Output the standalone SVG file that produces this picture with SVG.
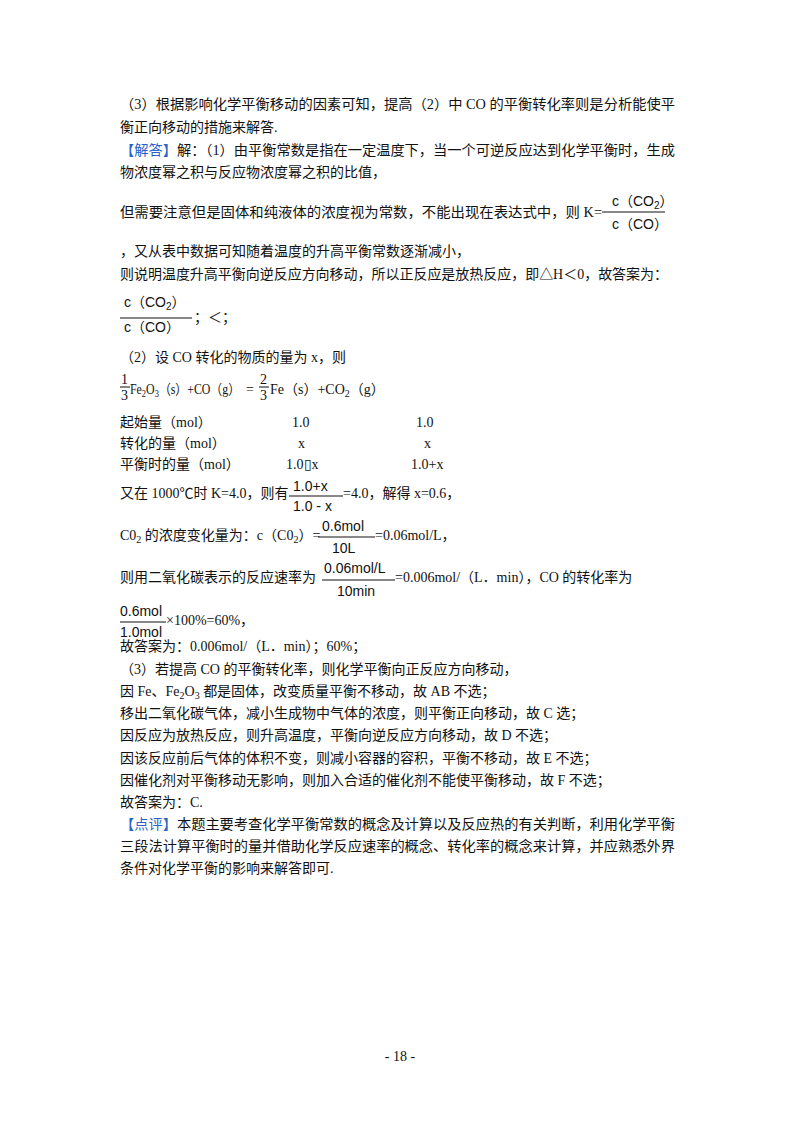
<svg xmlns="http://www.w3.org/2000/svg" width="800" height="1132" viewBox="0 0 800 1132">
<style>
text{font-family:"Liberation Serif","Noto Sans CJK SC",serif;font-size:14px;fill:#111}
.f{font-family:"Liberation Sans","Noto Sans CJK SC",sans-serif;font-size:14px}
.b{fill:#2a62c9}
.s{font-size:10px}
line{stroke:#111;stroke-width:1}
</style>
<rect width="800" height="1132" fill="#fff"/>
<text x="120" y="109" textLength="555" lengthAdjust="spacingAndGlyphs">（3）根据影响化学平衡移动的因素可知，提高（2）中 CO 的平衡转化率则是分析能使平</text>
<text x="120" y="132">衡正向移动的措施来解答.</text>
<text x="120" y="155" textLength="555" lengthAdjust="spacingAndGlyphs"><tspan class="b">【解答】</tspan>解：（1）由平衡常数是指在一定温度下，当一个可逆反应达到化学平衡时，生成</text>
<text x="120" y="177">物浓度幂之积与反应物浓度幂之积的比值，</text>
<text x="120" y="217" textLength="482" lengthAdjust="spacingAndGlyphs">但需要注意但是固体和纯液体的浓度视为常数，不能出现在表达式中，则 K=</text>
<text class="f" x="612" y="206">c（CO<tspan class="s" dy="3">2</tspan><tspan dy="-3">）</tspan></text>
<line x1="602" y1="212" x2="665" y2="212"/>
<text class="f" x="612" y="229">c（CO）</text>
<text x="120" y="256">，又从表中数据可知随着温度的升高平衡常数逐渐减小，</text>
<text x="120" y="279" textLength="548" lengthAdjust="spacingAndGlyphs">则说明温度升高平衡向逆反应方向移动，所以正反应是放热反应，即△H＜0，故答案为：</text>
<text class="f" x="124" y="307">c（CO<tspan class="s" dy="3">2</tspan><tspan dy="-3">）</tspan></text>
<line x1="120" y1="318" x2="192" y2="318"/>
<text class="f" x="124" y="332">c（CO）</text>
<text x="194" y="322">；＜；</text>
<text x="120" y="362">（2）设 CO 转化的物质的量为 x，则</text>
<text x="121" y="384" font-size="13">1</text>
<line x1="120" y1="387" x2="130" y2="387"/>
<text x="121" y="400" font-size="13">3</text>
<text x="130" y="394" textLength="110" lengthAdjust="spacingAndGlyphs">Fe<tspan class="s" dy="3">2</tspan><tspan dy="-3">O</tspan><tspan class="s" dy="3">3</tspan><tspan dy="-3">（s）+CO（g）</tspan></text>
<text x="246" y="394" font-size="15">=</text>
<text x="260" y="384" font-size="13">2</text>
<line x1="259" y1="387" x2="269" y2="387"/>
<text x="260" y="400" font-size="13">3</text>
<text x="270" y="394">Fe（s）+CO<tspan class="s" dy="3">2</tspan><tspan dy="-3">（g）</tspan></text>
<text x="120" y="427">起始量（mol）</text><text x="292" y="427">1.0</text><text x="416" y="427">1.0</text>
<text x="120" y="448">转化的量（mol）</text><text x="298" y="448">x</text><text x="424" y="448">x</text>
<text x="120" y="469">平衡时的量（mol）</text><text x="286" y="469">1.0▯x</text><text x="411" y="469">1.0+x</text>
<text x="120" y="498">又在 1000℃时 K=4.0，则有</text>
<text class="f" x="293" y="491">1.0+x</text>
<line x1="289" y1="496" x2="343" y2="496"/>
<text class="f" x="293" y="511">1.0 - x</text>
<text x="343" y="498">=4.0，解得 x=0.6，</text>
<text x="120" y="540">C0<tspan class="s" dy="3">2</tspan><tspan dy="-3"> 的浓度变化量为：c（C0</tspan><tspan class="s" dy="3">2</tspan><tspan dy="-3">）=</tspan></text>
<text class="f" x="322" y="531">0.6mol</text>
<line x1="318" y1="537" x2="375" y2="537"/>
<text class="f" x="332" y="553">10L</text>
<text x="375" y="540">=0.06mol/L，</text>
<text x="120" y="582">则用二氧化碳表示的反应速率为</text>
<text class="f" x="324" y="573">0.06mol/L</text>
<line x1="322" y1="580" x2="395" y2="580"/>
<text class="f" x="337" y="596">10min</text>
<text x="395" y="582">=0.006mol/（L．min），CO 的转化率为</text>
<text class="f" x="120" y="616">0.6mol</text>
<line x1="120" y1="622" x2="166" y2="622"/>
<text class="f" x="120" y="637">1.0mol</text>
<text x="166" y="625">×100%=60%，</text>
<text x="120" y="651">故答案为：0.006mol/（L．min）；60%；</text>
<text x="120" y="674">（3）若提高 CO 的平衡转化率，则化学平衡向正反应方向移动，</text>
<text x="120" y="696">因 Fe、Fe<tspan class="s" dy="3">2</tspan><tspan dy="-3">O</tspan><tspan class="s" dy="3">3</tspan><tspan dy="-3"> 都是固体，改变质量平衡不移动，故 AB 不选；</tspan></text>
<text x="120" y="718">移出二氧化碳气体，减小生成物中气体的浓度，则平衡正向移动，故 C 选；</text>
<text x="120" y="740">因反应为放热反应，则升高温度，平衡向逆反应方向移动，故 D 不选；</text>
<text x="120" y="763">因该反应前后气体的体积不变，则减小容器的容积，平衡不移动，故 E 不选；</text>
<text x="120" y="785">因催化剂对平衡移动无影响，则加入合适的催化剂不能使平衡移动，故 F 不选；</text>
<text x="120" y="807">故答案为：C.</text>
<text x="120" y="829" textLength="555" lengthAdjust="spacingAndGlyphs"><tspan class="b">【点评】</tspan>本题主要考查化学平衡常数的概念及计算以及反应热的有关判断，利用化学平衡</text>
<text x="120" y="851" textLength="555" lengthAdjust="spacingAndGlyphs">三段法计算平衡时的量并借助化学反应速率的概念、转化率的概念来计算，并应熟悉外界</text>
<text x="120" y="873">条件对化学平衡的影响来解答即可.</text>
<text x="400" y="1061" text-anchor="middle" font-size="10">- 18 -</text>
</svg>
